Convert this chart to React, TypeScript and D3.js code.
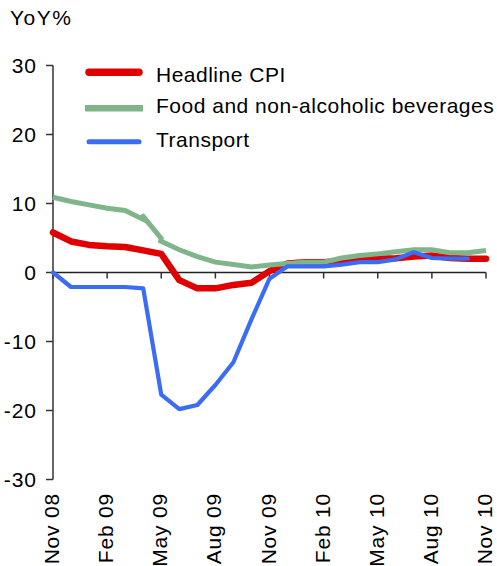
import React from "react";
import * as d3 from "d3";

const tickLabels = ["Nov 08", "Feb 09", "May 09", "Aug 09", "Nov 09", "Feb 10", "May 10", "Aug 10", "Nov 10"];
const yTicks = [-30, -20, -10, 0, 10, 20, 30];

// Monthly values, Nov 08 .. Nov 10 (index 0..24)
const headlineCPI = [5.8, 4.5, 4.0, 3.8, 3.7, 3.2, 2.7, -1.1, -2.3, -2.3, -1.8, -1.5, 0.2, 1.3, 1.5, 1.5, 1.7, 1.9, 2.0, 2.05, 2.3, 2.45, 2.1, 2.0, 2.0];
// Food series as [month index, value] pairs (reference has small overlapping restarts)
const foodPoints: [number, number][] = [
  [0, 10.9], [1, 10.3], [2, 9.8], [3, 9.3], [4, 9.0], [5, 7.7], [4.93, 8.35], [6, 4.95], [5.97, 4.55],
  [7, 3.3], [8, 2.3], [9, 1.5], [10, 1.15], [11, 0.8], [12, 1.1], [13, 1.3], [14, 1.5], [15, 1.5],
  [16, 2.1], [17, 2.45], [18, 2.7], [19, 3.0], [20, 3.3], [21, 3.3], [22, 2.85], [23, 2.85], [24, 3.2],
];
const transport = [0, -2.1, -2.1, -2.1, -2.1, -2.3, -17.7, -19.8, -19.2, -16.3, -13.0, -6.8, -0.9, 0.9, 0.9, 0.9, 1.15, 1.5, 1.5, 1.9, 2.95, 2.1, 2.0, 2.0];

const seriesNames = ["Headline CPI", "Food and non-alcoholic beverages", "Transport"];
const colors = ["#e00000", "#80b58b", "#3a6cf4"];

export default function App() {
  const W = 497, H = 566;
  const x = d3.scaleLinear().domain([0, 24]).range([53, 486]);
  const y = d3.scaleLinear().domain([-30, 30]).range([479.5, 65.5]);
  const font = "'Liberation Sans', Arial, sans-serif";

  const lineIdx = d3.line<number>().x((_, i) => x(i)).y((d) => y(d));
  const linePairs = d3.line<[number, number]>().x((d) => x(d[0])).y((d) => y(d[1]));

  const xTickIdx = d3.range(0, 25, 3);

  const legendY = [72.3, 108.3, 141.7];
  const legendTextY = [81.5, 113.3, 146.7];

  return (
    <svg width={W} height={H} style={{ position: "absolute", left: 0, top: 0, background: "#fff" }} fontFamily={font}>
      <text x={10} y={25} fontSize={21} letterSpacing={1.5} fill="#000">YoY%</text>

      {/* y axis */}
      <line x1={53} x2={53} y1={y(30)} y2={y(-30)} stroke="#333" strokeWidth={1.5} />
      {yTicks.map((t) => (
        <g key={t}>
          <line x1={46} x2={53} y1={y(t)} y2={y(t)} stroke="#333" strokeWidth={1.5} />
          <text x={37} y={y(t)} dy="0.36em" textAnchor="end" fontSize={21} letterSpacing={1} fill="#000">{t}</text>
        </g>
      ))}

      {/* x axis at zero */}
      <line x1={x(0)} x2={x(24)} y1={y(0)} y2={y(0)} stroke="#222" strokeWidth={1.5} />
      {xTickIdx.map((m, i) => (
        <g key={m}>
          <line x1={x(m)} x2={x(m)} y1={y(0)} y2={y(0) + 6} stroke="#333" strokeWidth={1.5} />
          <text transform={`translate(${x(m) + 6},493) rotate(-90)`} textAnchor="end" fontSize={21} letterSpacing={0.8} fill="#000">{tickLabels[i]}</text>
        </g>
      ))}

      {/* series */}
      <path d={lineIdx(headlineCPI) || ""} fill="none" stroke={colors[0]} strokeWidth={6.5} strokeLinejoin="round" strokeLinecap="round" />
      <path d={linePairs(foodPoints) || ""} fill="none" stroke={colors[1]} strokeWidth={5} strokeLinejoin="miter" strokeLinecap="butt" />
      <path d={lineIdx(transport) || ""} fill="none" stroke={colors[2]} strokeWidth={4.2} strokeLinejoin="round" strokeLinecap="round" />

      {/* legend */}
      {seriesNames.map((n, i) => (
        <g key={n}>
          <line x1={i === 1 ? 85 : 89} x2={i === 1 ? 143 : 139} y1={legendY[i]} y2={legendY[i]} stroke={colors[i]}
            strokeWidth={[7.5, 6.5, 5][i]} strokeLinecap={i === 1 ? "butt" : "round"} />
          <text x={156} y={legendTextY[i]} fontSize={21} letterSpacing={0.5} fill="#000">{n}</text>
        </g>
      ))}
    </svg>
  );
}
